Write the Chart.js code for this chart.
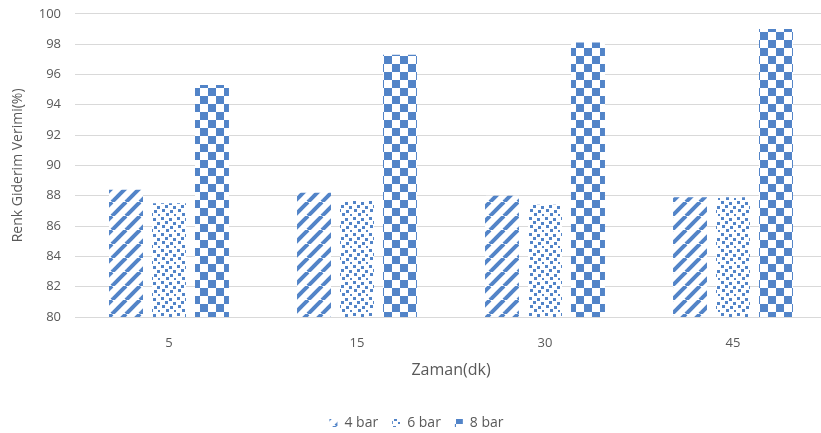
<!DOCTYPE html>
<html>
<head>
  <meta charset="utf-8">
  <title>Renk Giderim Verimi</title>
  <script src="https://cdn.jsdelivr.net/npm/chart.js"></script>
  <style>
    * { margin: 0; padding: 0; box-sizing: border-box; }
    html, body { width: 821px; height: 433px; overflow: hidden; background: #fff; }
    #wrap { width: 840px; height: 448px; margin-top: -8px; }
  </style>
</head>
<body>
  <div id="wrap"><canvas id="grafik"></canvas></div>
  <script>
    // veriler
    const zaman = ['5', '15', '30', '45'];
    const bar4 = [88.4, 88.2, 88.0, 87.9];
    const bar6 = [87.5, 87.7, 87.4, 87.9];
    const bar8 = [95.3, 97.3, 98.1, 99.0];
    const seriAdlari = ['4 bar', '6 bar', '8 bar'];

    const mavi = '#5284c8';
    const yazi = '#595959';

    // desenler
    function desen(boyut, ciz) {
      const c = document.createElement('canvas');
      c.width = boyut; c.height = boyut;
      const g = c.getContext('2d');
      g.fillStyle = '#fff';
      g.fillRect(0, 0, boyut, boyut);
      g.fillStyle = mavi;
      g.strokeStyle = mavi;
      ciz(g, boyut);
      return document.createElement('canvas').getContext('2d').createPattern(c, 'repeat');
    }

    const cizgili = desen(14, (g, s) => {
      g.lineWidth = 4;
      for (let k = -1; k <= 1; k++) {
        g.beginPath();
        g.moveTo(k * s, s);
        g.lineTo(k * s + s, 0);
        g.stroke();
      }
    });

    const noktali = desen(16, (g) => {
      const pts = [[1,1],[9,2],[5,5],[13,6],[2,9],[10,10],[6,13],[14,14]];
      pts.forEach(p => g.fillRect(p[0], p[1], 3, 3));
    });

    const dama = desen(16, (g) => {
      g.fillRect(0, 0, 8, 8);
      g.fillRect(8, 8, 8, 8);
    });

    const ctx = document.getElementById('grafik').getContext('2d');
    new Chart(ctx, {
      type: 'bar',
      data: {
        labels: zaman,
        datasets: [
          { label: seriAdlari[0], data: bar4, backgroundColor: cizgili },
          { label: seriAdlari[1], data: bar6, backgroundColor: noktali },
          { label: seriAdlari[2], data: bar8, backgroundColor: dama }
        ]
      },
      options: {
        responsive: true,
        maintainAspectRatio: false,
        animation: false,
        categoryPercentage: 0.686,
        barPercentage: 0.79,
        layout: { padding: { top: 4, left: 6, right: 13, bottom: 0 } },
        plugins: {
          tooltip: { enabled: false },
          legend: {
            position: 'bottom',
            labels: {
              boxWidth: 8, boxHeight: 8,
              color: yazi,
              padding: 14,
              font: { family: 'Open Sans', size: 14 }
            }
          }
        },
        scales: {
          x: {
            grid: { display: false },
            border: { display: false },
            ticks: { color: yazi, padding: 10, font: { family: 'Open Sans', size: 13 } },
            title: {
              display: true, text: 'Zaman(dk)', color: yazi,
              font: { family: 'Open Sans', size: 16 }, padding: { top: 4, bottom: 22 }
            },
            afterFit: s => { s.height = 85; }
          },
          y: {
            min: 80, max: 100,
            ticks: { stepSize: 2, color: yazi, padding: 14, font: { family: 'Open Sans', size: 13 } },
            grid: { color: '#d9d9d9', drawTicks: false },
            border: { display: false },
            title: {
              display: true, text: 'Renk Giderim Verimi(%)', color: yazi,
              font: { family: 'Open Sans', size: 14 }
            },
            afterFit: s => { s.width = 69; }
          }
        }
      }
    });
  </script>
</body>
</html>
